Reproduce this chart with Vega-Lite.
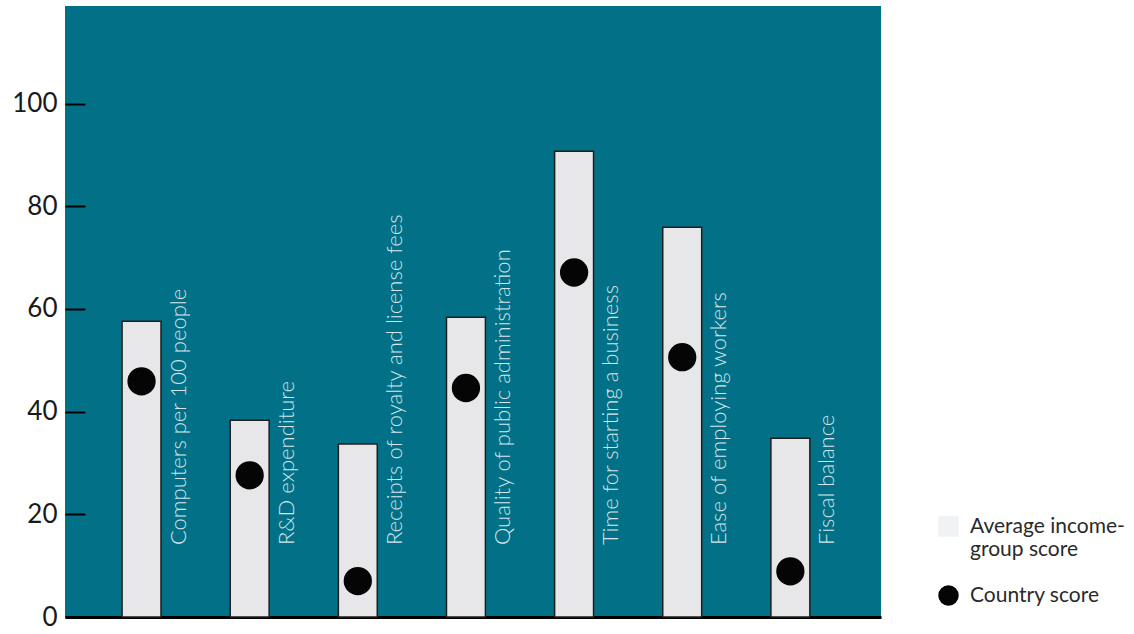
{
  "$schema": "https://vega.github.io/schema/vega-lite/v6.json",
  "autosize": {"type": "none"},
  "width": 816,
  "height": 611,
  "padding": {"left": 65, "top": 6, "right": 253, "bottom": 17},
  "background": "#ffffff",
  "config": {
    "view": {"fill": "#027086", "stroke": null},
    "font": "Lato"
  },
  "data": {
    "values": [
      {"indicator": "Computers per 100 people", "avg": 57.6, "country": 45.9},
      {"indicator": "R&D expenditure", "avg": 38.3, "country": 27.6},
      {"indicator": "Receipts of royalty and license fees", "avg": 33.7, "country": 7.0},
      {"indicator": "Quality of public administration", "avg": 58.4, "country": 44.6},
      {"indicator": "Time for starting a business", "avg": 90.7, "country": 67.1},
      {"indicator": "Ease of employing workers", "avg": 75.9, "country": 50.6},
      {"indicator": "Fiscal balance", "avg": 34.8, "country": 8.9}
    ]
  },
  "encoding": {
    "x": {
      "field": "indicator",
      "type": "nominal",
      "sort": null,
      "scale": {"paddingInner": 0.64, "paddingOuter": 0.593, "align": 0.445},
      "axis": {"title": null, "labels": false, "ticks": false, "domain": true, "domainColor": "#000000", "domainWidth": 3}
    }
  },
  "layer": [
    {
      "mark": {"type": "bar", "fill": "#e7e7e9", "stroke": "#1e1e1e", "strokeWidth": 1.5},
      "encoding": {
        "y": {
          "field": "avg",
          "type": "quantitative",
          "scale": {"domain": [0, 119], "nice": false, "zero": true},
          "axis": {
            "title": null,
            "values": [0, 20, 40, 60, 80, 100],
            "grid": false,
            "domain": false,
            "tickColor": "#000000",
            "tickWidth": 2,
            "tickSize": -20,
            "labelPadding": 28,
            "labelFontSize": 26,
            "labelColor": "#1a1a1a",
            "labelFont": "Lato"
          }
        }
      }
    },
    {
      "mark": {"type": "text", "angle": 270, "align": "left", "baseline": "middle", "xOffset": 37, "fontSize": 22, "fontWeight": 300, "font": "Lato", "color": "#d3e6eb"},
      "encoding": {
        "y": {"datum": 14, "type": "quantitative"},
        "text": {"field": "indicator"}
      }
    },
    {
      "mark": {"type": "point", "filled": true, "size": 800, "opacity": 1},
      "encoding": {
        "y": {"field": "country", "type": "quantitative"},
        "color": {
          "datum": "Country score",
          "type": "nominal",
          "scale": {"domain": ["Average income-group score", "Country score"], "range": ["#f1f2f3", "#050505"]},
          "legend": {
            "title": null,
            "orient": "none",
            "legendX": 872,
            "legendY": 509,
            "symbolSize": 420,
            "labelFontSize": 21,
            "labelColor": "#2a2a2a",
            "labelFont": "Lato",
            "labelLimit": 300,
            "rowPadding": 24,
            "labelOffset": 10,
            "labelExpr": "datum.label == 'Average income-group score' ? ['Average income-', 'group score'] : datum.label",
            "symbolStrokeWidth": 2,
            "encode": {
              "symbols": {
                "update": {
                  "stroke": {"signal": "datum.value == 'Country score' ? '#050505' : '#9ab7c4'"}
                }
              }
            }
          }
        },
        "shape": {
          "datum": "Country score",
          "type": "nominal",
          "scale": {"domain": ["Average income-group score", "Country score"], "range": ["square", "circle"]},
          "legend": {
            "title": null,
            "orient": "none",
            "legendX": 872,
            "legendY": 509,
            "symbolSize": 420,
            "labelFontSize": 21,
            "labelColor": "#2a2a2a",
            "labelFont": "Lato",
            "labelLimit": 300,
            "rowPadding": 24,
            "labelOffset": 10,
            "labelExpr": "datum.label == 'Average income-group score' ? ['Average income-', 'group score'] : datum.label",
            "symbolStrokeWidth": 2,
            "encode": {
              "symbols": {
                "update": {
                  "stroke": {"signal": "datum.value == 'Country score' ? '#050505' : '#9ab7c4'"}
                }
              }
            }
          }
        }
      }
    }
  ]
}
